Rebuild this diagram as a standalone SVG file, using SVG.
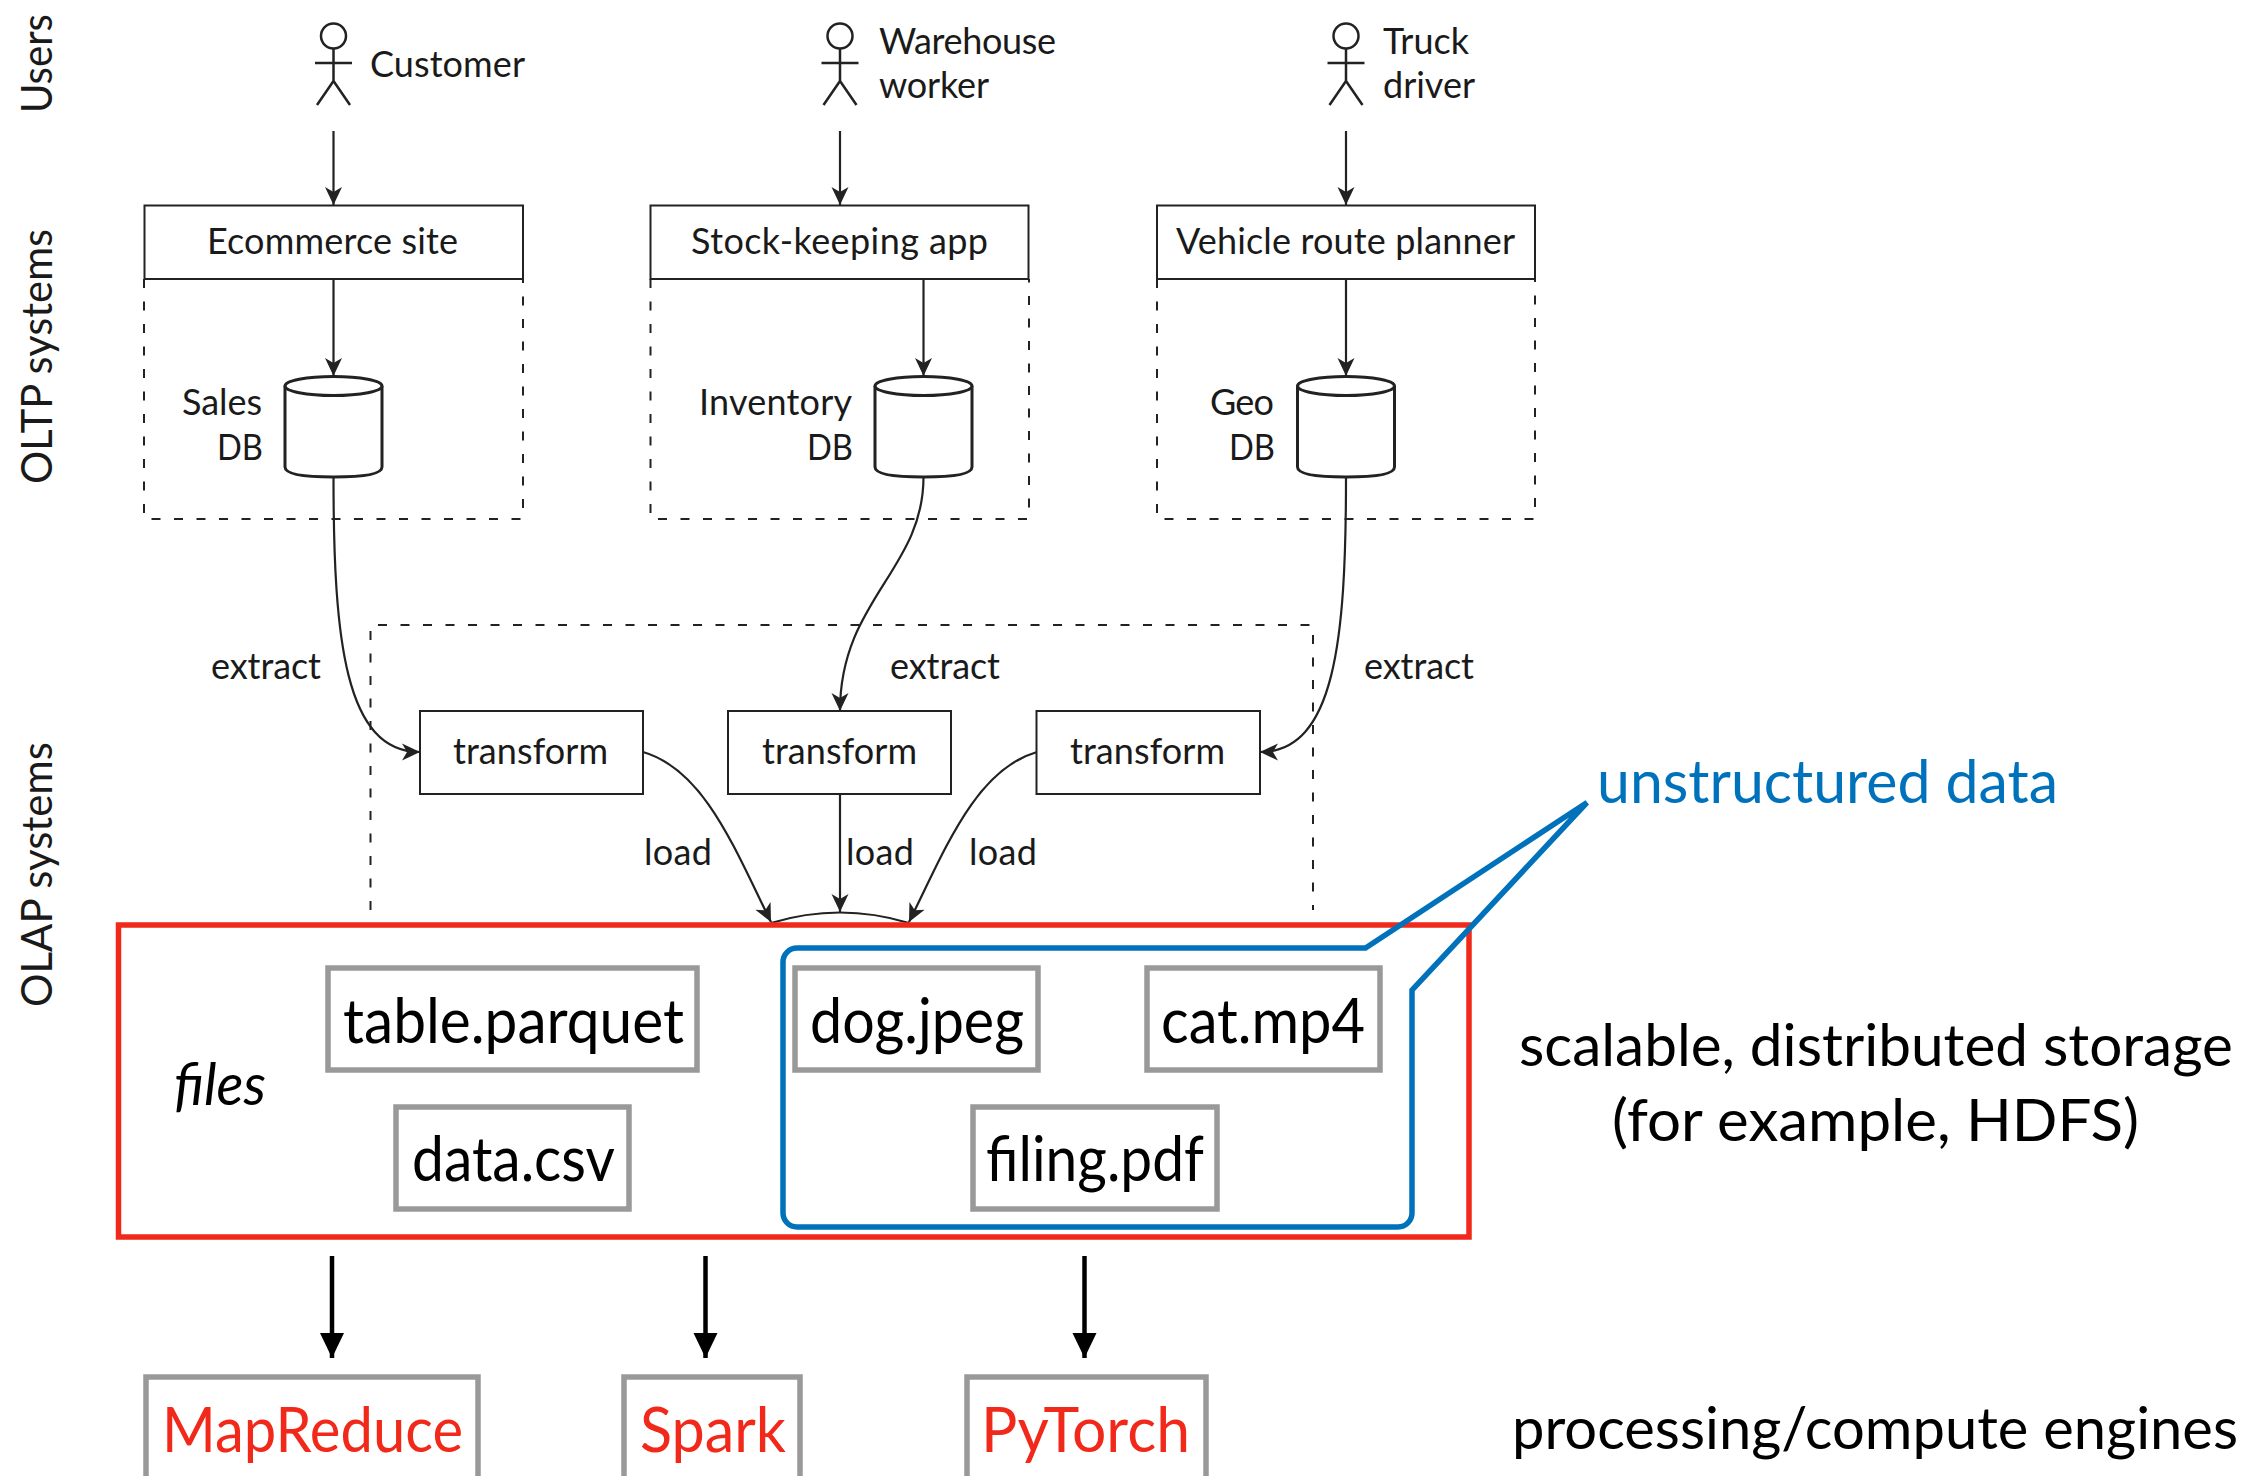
<svg xmlns="http://www.w3.org/2000/svg" width="2268" height="1476" viewBox="0 0 2268 1476">
<style>
text{font-family:"Lato","Noto Sans","Liberation Sans",sans-serif;fill:#1a1a1a}
.s{font-size:36px}
.ax{font-size:42px}
.big{font-size:62px;fill:#000}
.eng{font-size:62px;fill:#f1291a}
.note{font-size:58px;fill:#000}
.blue{font-size:60px;fill:#0072bc}
.box{fill:#fff;stroke:#222;stroke-width:2}
.actor{fill:none;stroke:#222;stroke-width:2.5}
.dash{fill:none;stroke:#222;stroke-width:2;stroke-dasharray:9 13.5}
.db{fill:#fff;stroke:#222;stroke-width:3}
.c{fill:none;stroke:#222;stroke-width:2.2}
.heavy{fill:none;stroke:#000;stroke-width:4.5}
.file{fill:#fff;stroke:#999;stroke-width:5.5}
</style>
<defs>
<marker id="a" markerUnits="userSpaceOnUse" viewBox="0 0 20 20" refX="19" refY="10" markerWidth="20" markerHeight="20" orient="auto"><path d="M1 1.500L19 10L1 18.500L6 10Z" fill="#222"/></marker>
<marker id="b" markerUnits="userSpaceOnUse" viewBox="0 0 26 26" refX="25" refY="13" markerWidth="26" markerHeight="26" orient="auto"><path d="M0 1L25 13L0 25Z" fill="#000"/></marker>
</defs>
<g id="axis-labels">
<text class="ax" transform="translate(52,113) rotate(-90)" textLength="99" lengthAdjust="spacingAndGlyphs">Users</text>
<text class="ax" transform="translate(52,484) rotate(-90)" textLength="255" lengthAdjust="spacingAndGlyphs">OLTP systems</text>
<text class="ax" transform="translate(52,1007) rotate(-90)" textLength="265" lengthAdjust="spacingAndGlyphs">OLAP systems</text>
</g>
<g id="oltp-boundaries">
<path class="dash" d="M144 279V519H523V279"/>
<path class="dash" d="M650.500 279V519H1029V279"/>
<path class="dash" d="M1157 279V519H1535V279"/>
<path class="dash" d="M370.500 910V625H1313V910"/>
</g>
<g id="customer"><g class="actor"><circle cx="333.500" cy="36" r="12.500"/><path d="M333.500 48.500V81M315 63H352M333.500 81L317 105M333.500 81L350 105"/></g><text class="s" x="370" y="76.500" textLength="155">Customer</text></g>
<g id="warehouse-worker"><g class="actor"><circle cx="840" cy="36" r="12.500"/><path d="M840 48.500V81M821.500 63H858.500M840 81L823.500 105M840 81L856.500 105"/></g><text class="s" x="879" y="53.500" textLength="177">Warehouse</text><text class="s" x="879" y="98" textLength="110">worker</text></g>
<g id="truck-driver"><g class="actor"><circle cx="1346" cy="36" r="12.500"/><path d="M1346 48.500V81M1327.500 63H1364.500M1346 81L1329.500 105M1346 81L1362.500 105"/></g><text class="s" x="1383" y="53.500" textLength="86">Truck</text><text class="s" x="1383" y="98" textLength="92">driver</text></g>
<g id="ecommerce"><rect class="box" x="144.500" y="205.500" width="378.500" height="73.500"/><text class="s" x="207" y="253.500" textLength="251">Ecommerce site</text></g>
<g id="stock"><rect class="box" x="650.500" y="205.500" width="378" height="73.500"/><text class="s" x="691" y="253.500" textLength="297">Stock-keeping app</text></g>
<g id="vehicle"><rect class="box" x="1157" y="205.500" width="378" height="73.500"/><text class="s" x="1176" y="253.500" textLength="339">Vehicle route planner</text></g>
<g id="sales-db"><path class="db" d="M285 386V467Q285 477 333.500 477Q382 477 382 467V386"/><ellipse class="db" cx="333.500" cy="386" rx="48.500" ry="9.500"/><text class="s" x="182" y="415" textLength="80">Sales</text><text class="s" x="217" y="460" font-size="36" textLength="46" lengthAdjust="spacingAndGlyphs">DB</text></g>
<g id="inventory-db"><path class="db" d="M875 386V467Q875 477 923.500 477Q972 477 972 467V386"/><ellipse class="db" cx="923.500" cy="386" rx="48.500" ry="9.500"/><text class="s" x="699" y="415" textLength="153">Inventory</text><text class="s" x="807" y="460" textLength="46" lengthAdjust="spacingAndGlyphs">DB</text></g>
<g id="geo-db"><path class="db" d="M1297.500 386V467Q1297.500 477 1346 477Q1394.500 477 1394.500 467V386"/><ellipse class="db" cx="1346" cy="386" rx="48.500" ry="9.500"/><text class="s" x="1210" y="415" textLength="64">Geo</text><text class="s" x="1229" y="460" textLength="46" lengthAdjust="spacingAndGlyphs">DB</text></g>
<g id="connectors">
<path class="c" marker-end="url(#a)" d="M333.500 131V205"/>
<path class="c" marker-end="url(#a)" d="M840 131V205"/>
<path class="c" marker-end="url(#a)" d="M1346 131V205"/>
<path class="c" marker-end="url(#a)" d="M333.500 279V376"/>
<path class="c" marker-end="url(#a)" d="M923.500 279V376"/>
<path class="c" marker-end="url(#a)" d="M1346 279V376"/>
<path class="c" marker-end="url(#a)" d="M333.500 477C333.500 640 345 752 420 752"/>
<path class="c" marker-end="url(#a)" d="M923.500 477C923.500 570 840 600 840 711"/>
<path class="c" marker-end="url(#a)" d="M1346 477C1346 640 1335 752 1260 752"/>
<path class="c" marker-end="url(#a)" d="M643 752C705 770 735 850 771 922"/>
<path class="c" marker-end="url(#a)" d="M840 794V912"/>
<path class="c" marker-end="url(#a)" d="M1037 752C975 770 945 850 909 922"/>
<path class="c" stroke-width="3" d="M771 923Q840 902 909 923"/>
<path class="heavy" marker-end="url(#b)" d="M332 1256V1358"/>
<path class="heavy" marker-end="url(#b)" d="M705.500 1256V1358"/>
<path class="heavy" marker-end="url(#b)" d="M1084.500 1256V1358"/>
</g>
<g id="etl-labels">
<text class="s" x="211" y="678.500" textLength="110">extract</text>
<text class="s" x="890" y="678.500" textLength="110">extract</text>
<text class="s" x="1364" y="678.500" textLength="110">extract</text>
<text class="s" x="644" y="865" textLength="68">load</text>
<text class="s" x="846" y="865" textLength="68">load</text>
<text class="s" x="969" y="865" textLength="68">load</text>
</g>
<g id="transform-1"><rect class="box" x="420" y="711" width="223" height="83"/><text class="s" x="453" y="764" textLength="155">transform</text></g>
<g id="transform-2"><rect class="box" x="728" y="711" width="223" height="83"/><text class="s" x="762" y="764" textLength="155">transform</text></g>
<g id="transform-3"><rect class="box" x="1036.500" y="711" width="223.500" height="83"/><text class="s" x="1070" y="764" textLength="155">transform</text></g>
<g id="storage"><rect x="118.500" y="925" width="1350.500" height="312" fill="#fff" stroke="#f1291a" stroke-width="5.500"/></g>
<g id="files-label"><text class="big" x="174" y="1105" font-style="italic" style="font-size:58px" textLength="92" lengthAdjust="spacingAndGlyphs">files</text></g>
<g id="table-parquet"><rect class="file" x="328" y="968" width="369" height="102"/><text class="big" x="343" y="1043" textLength="341" lengthAdjust="spacingAndGlyphs">table.parquet</text></g>
<g id="data-csv"><rect class="file" x="396" y="1107" width="233" height="102"/><text class="big" x="412" y="1181" textLength="203" lengthAdjust="spacingAndGlyphs">data.csv</text></g>
<g id="dog-jpeg"><rect class="file" x="795" y="968" width="243" height="102"/><text class="big" x="810" y="1043" textLength="214" lengthAdjust="spacingAndGlyphs">dog.jpeg</text></g>
<g id="cat-mp4"><rect class="file" x="1147" y="968" width="233" height="102"/><text class="big" x="1161" y="1043" textLength="204" lengthAdjust="spacingAndGlyphs">cat.mp4</text></g>
<g id="filing-pdf"><rect class="file" x="973" y="1107" width="244" height="102"/><text class="big" x="986" y="1181" textLength="218" lengthAdjust="spacingAndGlyphs">filing.pdf</text></g>
<g id="unstructured-callout"><path d="M798 948H1365.500L1587 802.500L1412 990V1213A14 14 0 0 1 1398 1227H797A14 14 0 0 1 783 1213V962A14 14 0 0 1 797 948Z" fill="none" stroke="#0072bc" stroke-width="5.500" stroke-linejoin="miter"/><text class="blue" x="1597" y="803" textLength="461" lengthAdjust="spacingAndGlyphs">unstructured data</text></g>
<g id="mapreduce"><path class="file" d="M146 1480V1377H478V1480"/><text class="eng" x="162" y="1452" textLength="301" lengthAdjust="spacingAndGlyphs">MapReduce</text></g>
<g id="spark"><path class="file" d="M624 1480V1377H800V1480"/><text class="eng" x="640" y="1452" textLength="146" lengthAdjust="spacingAndGlyphs">Spark</text></g>
<g id="pytorch"><path class="file" d="M967 1480V1377H1206V1480"/><text class="eng" x="981" y="1452" textLength="209" lengthAdjust="spacingAndGlyphs">PyTorch</text></g>
<g id="notes">
<text class="note" x="1519" y="1066" textLength="714" lengthAdjust="spacingAndGlyphs">scalable, distributed storage</text>
<text class="note" x="1612" y="1141" textLength="527" lengthAdjust="spacingAndGlyphs">(for example, HDFS)</text>
<text class="note" x="1512" y="1449" textLength="726" lengthAdjust="spacingAndGlyphs">processing/compute engines</text>
</g>
</svg>
